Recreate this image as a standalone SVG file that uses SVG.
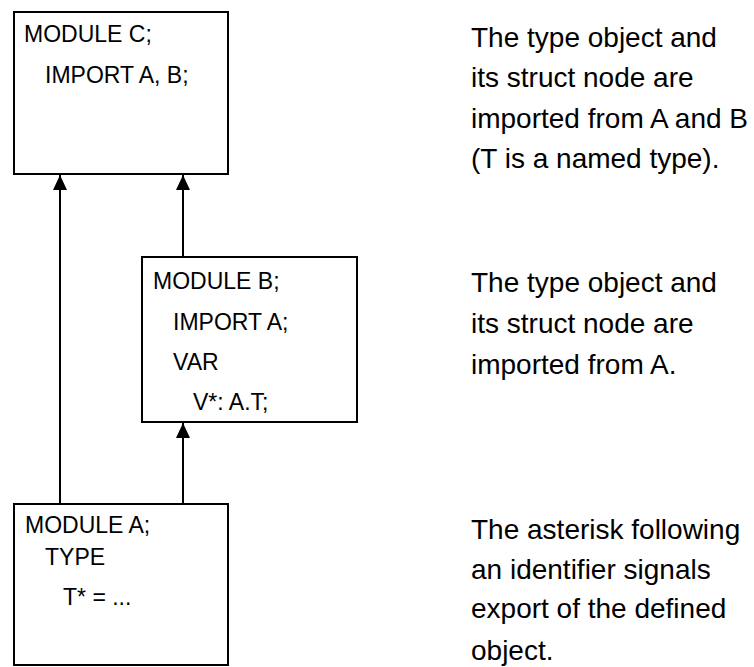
<svg xmlns="http://www.w3.org/2000/svg" width="754" height="667" viewBox="0 0 754 667">
<style>
.box{fill:#fff;stroke:#000;stroke-width:2}
.t{font-family:"Liberation Sans",Arial,sans-serif;font-size:23px;fill:#000}
.n{font-family:"Liberation Sans",Arial,sans-serif;font-size:28px;fill:#000}
.c{stroke:#000;stroke-width:2;fill:none;marker-end:url(#ah)}
</style>
<defs>
<marker id="ah" viewBox="0 0 15 14" refX="15" refY="7" markerWidth="15" markerHeight="14" markerUnits="userSpaceOnUse" orient="auto">
<path d="M0,0 L15,7 L0,14 Z" fill="#000"/>
</marker>
</defs>
<rect width="754" height="667" fill="#fff"/>
<g id="connectors">
<line class="c" x1="60" y1="504" x2="60" y2="175"/>
<line class="c" x1="183" y1="257" x2="183" y2="175"/>
<line class="c" x1="183" y1="504" x2="183" y2="423"/>
</g>
<g id="moduleC">
<rect class="box" x="14" y="12" width="214" height="162"/>
<text class="t" x="24" y="42">MODULE C;</text>
<text class="t" x="45" y="83">IMPORT A, B;</text>
</g>
<g id="moduleB">
<rect class="box" x="142" y="257" width="215" height="165"/>
<text class="t" x="153" y="289">MODULE B;</text>
<text class="t" x="173" y="330">IMPORT A;</text>
<text class="t" x="173" y="370">VAR</text>
<text class="t" x="193" y="410">V*: A.T;</text>
</g>
<g id="moduleA">
<rect class="box" x="14" y="504" width="214" height="161"/>
<text class="t" x="25" y="533">MODULE A;</text>
<text class="t" x="45" y="565">TYPE</text>
<text class="t" x="63" y="605">T* = ...</text>
</g>
<g id="noteC">
<text class="n" x="471" y="47">The type object and</text>
<text class="n" x="471" y="87">its struct node are</text>
<text class="n" x="471" y="128">imported from A and B</text>
<text class="n" x="471" y="168">(T is a named type).</text>
</g>
<g id="noteB">
<text class="n" x="471" y="292">The type object and</text>
<text class="n" x="471" y="333">its struct node are</text>
<text class="n" x="471" y="374">imported from A.</text>
</g>
<g id="noteA">
<text class="n" x="471" y="539">The asterisk following</text>
<text class="n" x="471" y="579">an identifier signals</text>
<text class="n" x="471" y="618">export of the defined</text>
<text class="n" x="471" y="660">object.</text>
</g>
</svg>
